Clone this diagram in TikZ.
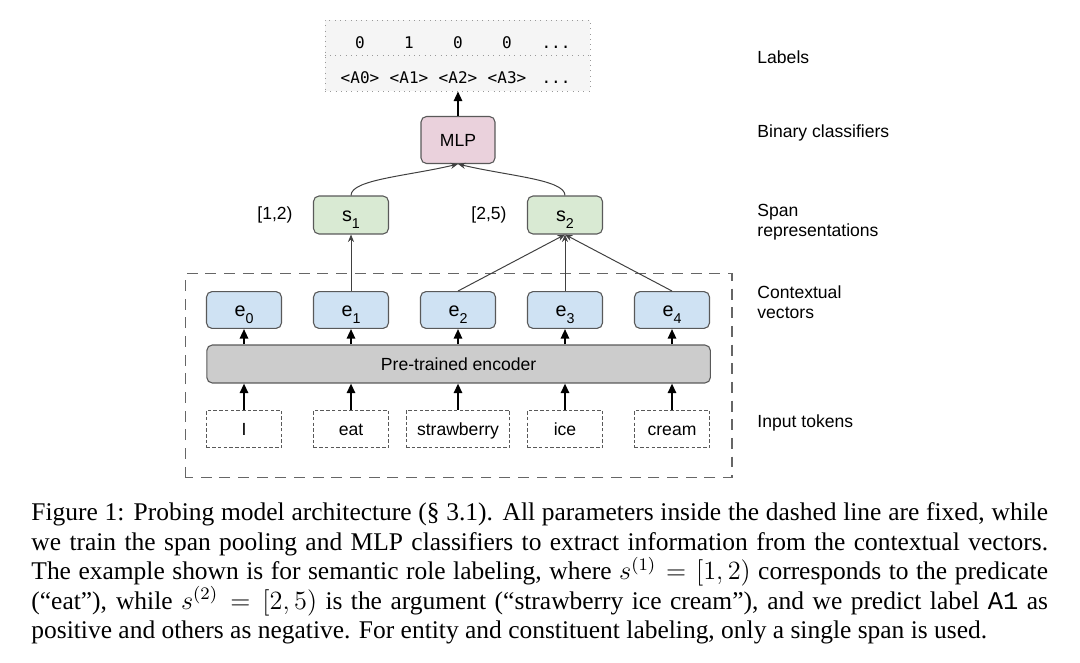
\documentclass[tikz,border=0pt]{standalone}
\usepackage{fontspec}
\setmainfont{Liberation Serif}
\newfontfamily\diagfont{Liberation Sans}
\newfontfamily\labelfont{DejaVu Sans Mono}
\newfontfamily\capmono{Liberation Mono}
\usetikzlibrary{arrows.meta,positioning}
\definecolor{mlppink}{HTML}{EAD1DC}
\definecolor{spangreen}{HTML}{D9EAD3}
\definecolor{vecblue}{HTML}{CFE2F3}
\definecolor{encgray}{HTML}{CCCCCC}
\definecolor{boxline}{HTML}{595959}
\newcommand{\vecsub}[1]{\raisebox{-0.75ex}{\fontsize{6.5}{6.5}\selectfont #1}}
\newcommand{\moredots}{...}
\tikzset{
  diag/.style={inner sep=0pt, font=\diagfont\fontsize{8}{9.5}\selectfont},
  block/.style={diag, draw=boxline, line width=0.5pt, rounded corners=2.5pt,
    minimum width=1.2cm, minimum height=0.59cm, text height=1.6ex, text depth=0.4ex},
  vecbox/.style={block, font=\diagfont\fontsize{9}{10}\selectfont},
  token/.style={diag, draw=boxline, line width=0.45pt, dash pattern=on 1.6pt off 1pt,
    minimum width=1.2cm, minimum height=0.6cm, inner xsep=5pt, text height=1.6ex, text depth=0.4ex},
  side/.style={anchor=west, align=left, inner sep=0pt, font=\diagfont\fontsize{8}{9.1}\selectfont},
  mono/.style={inner sep=0pt, text height=1.5ex, text depth=0.3ex, font=\labelfont\fontsize{7.3}{8}\selectfont},
  fat arrow/.style={line width=0.9pt, -{Triangle[length=4.4pt,width=3.8pt]}},
  thin arrow/.style={line width=0.45pt, draw=black!75, -{Stealth[length=3.4pt,width=2.8pt]}},
  frame/.style={draw=black!60, line width=0.7pt, dash pattern=on 5pt off 3.5pt},
}

\begin{document}
\begin{tikzpicture}[x=0.016cm,y=0.016cm]
  \useasboundingbox (0,0) rectangle (1080,662);
  % output labels
  \node[draw=black!40, dotted, fill=black!4, minimum width=4.24cm, minimum height=1.136cm, inner sep=0pt] (labels) at (457.5,606.5) {};
  \draw[black!40, dotted] (labels.west) -- (labels.east);
  \foreach \v/\a [count=\i from 0] in {0/<A0>, 1/<A1>, 0/<A2>, 0/<A3>, \moredots/\moredots} {
    \node[mono] (val\i) at (360+49*\i,620) {\v};
    \node[mono] (arg\i) at (360+49*\i,585) {\a};
  }
  \node[block, fill=mlppink, minimum width=1.184cm, minimum height=0.752cm] (mlp) at (458,522) {MLP};
  \draw[fat arrow] (mlp.north) -- (mlp.north |- labels.south);
  % spans
  \node[vecbox, fill=spangreen, minimum height=0.608cm] (s1) at (351,447) {s\vecsub{1}};
  \node[vecbox, fill=spangreen, minimum height=0.608cm] (s2) at (565,447) {s\vecsub{2}};
  \node[diag, left=0.32cm of s1] (range1) {[1,2)};
  \node[diag, left=0.32cm of s2] (range2) {[2,5)};
  \draw[thin arrow] (s1.north) .. controls +(0,16) and +(-50,-12) .. (mlp.south);
  \draw[thin arrow] (s2.north) .. controls +(0,16) and +(50,-12) .. (mlp.south);
  % frozen part
  \draw[frame] (185.4,184.5) rectangle (731.8,388.4);
  \node[block, fill=encgray, minimum width=8.06cm, minimum height=0.608cm] (enc) at (458.6,298) {Pre-trained encoder};
  \foreach \w [count=\i from 0] in {I,eat,strawberry,ice,cream} {
    \node[vecbox, fill=vecblue] (e\i) at (244+107*\i,352) {e\vecsub{\i}};
    \node[token] (t\i) at (244+107*\i,233) {\w};
    \draw[fat arrow] (t\i.north) -- (t\i.north |- enc.south);
    \draw[fat arrow] (e\i.south |- enc.north) -- (e\i.south);
  }
  \draw[thin arrow] (e1.north) -- (s1.south);
  \foreach \i in {2,3,4}
    \draw[thin arrow] (e\i.north) -- (s2.south);
  % row names
  \node[side] (nLabels) at (757,605) {Labels};
  \node[side] (nBinary) at (757,529) {Binary classifiers};
  \node[side] (nSpan) at (757,440) {Span\\representations};
  \node[side] (nVec) at (757,359.5) {Contextual\\vectors};
  \node[side] (nInput) at (757,239) {Input tokens};
  % caption
  \node[anchor=north west, inner sep=0pt, text width=463pt, align=justify,
    font=\fontsize{11.6}{13.5}\selectfont] (caption) at (31,160) {Figure 1: Probing model architecture (§ 3.1). All parameters inside the dashed line are fixed, while\linebreak
    we train the span pooling and MLP classifiers to extract information from the contextual vectors.\linebreak
    The example shown is for semantic role labeling, where $s^{(1)} = [1,2)$ corresponds to the predicate\linebreak
    (“eat”), while $s^{(2)} = [2,5)$ is the argument (“strawberry ice cream”), and we predict label {\capmono A1} as\linebreak
    positive and others as negative. For entity and constituent labeling, only a single span is used.};
\end{tikzpicture}
\end{document}
